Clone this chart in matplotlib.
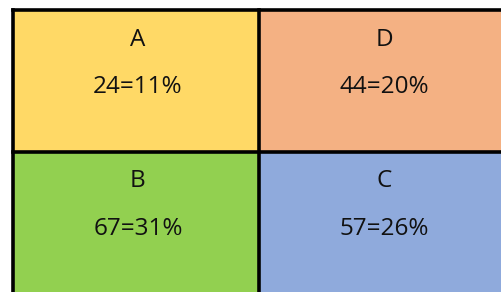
import matplotlib.pyplot as plt
from matplotlib.patches import Rectangle

labels = ['A', 'D', 'B', 'C']
counts = [24, 44, 67, 57]
percents = [11, 20, 31, 26]
colors = ['#FFD966', '#F4B183', '#92D050', '#8FAADC']

fig = plt.figure(figsize=(5.01, 2.92), dpi=100)
# grid is cropped on the right and bottom, like the source screenshot
ax = fig.add_axes([0.025, -0.004, 0.982, 0.97])
ax.set_xlim(0, 2)
ax.set_ylim(2, 0)
ax.axis('off')

for i, (lab, n, p, c) in enumerate(zip(labels, counts, percents, colors)):
    col, row = i % 2, i // 2
    ax.add_patch(Rectangle((col, row), 1, 1, facecolor=c, edgecolor='none',
                           clip_on=False))
    ax.text(col + 0.51, row + 0.21, lab, ha='center', va='center',
            fontsize=17.5, family='Open Sans', color='#111111')
    ax.text(col + 0.51, row + 0.545, f'{n}={p}%', ha='center', va='center',
            fontsize=17.5, family='Open Sans', color='#111111')

# only the left, top and inner borders are visible
for x in (0, 1):
    ax.axvline(x, color='black', linewidth=2.6, clip_on=False)
for y in (0, 1):
    ax.axhline(y, color='black', linewidth=2.6, clip_on=False)

fig.savefig('out.png', dpi=100)
